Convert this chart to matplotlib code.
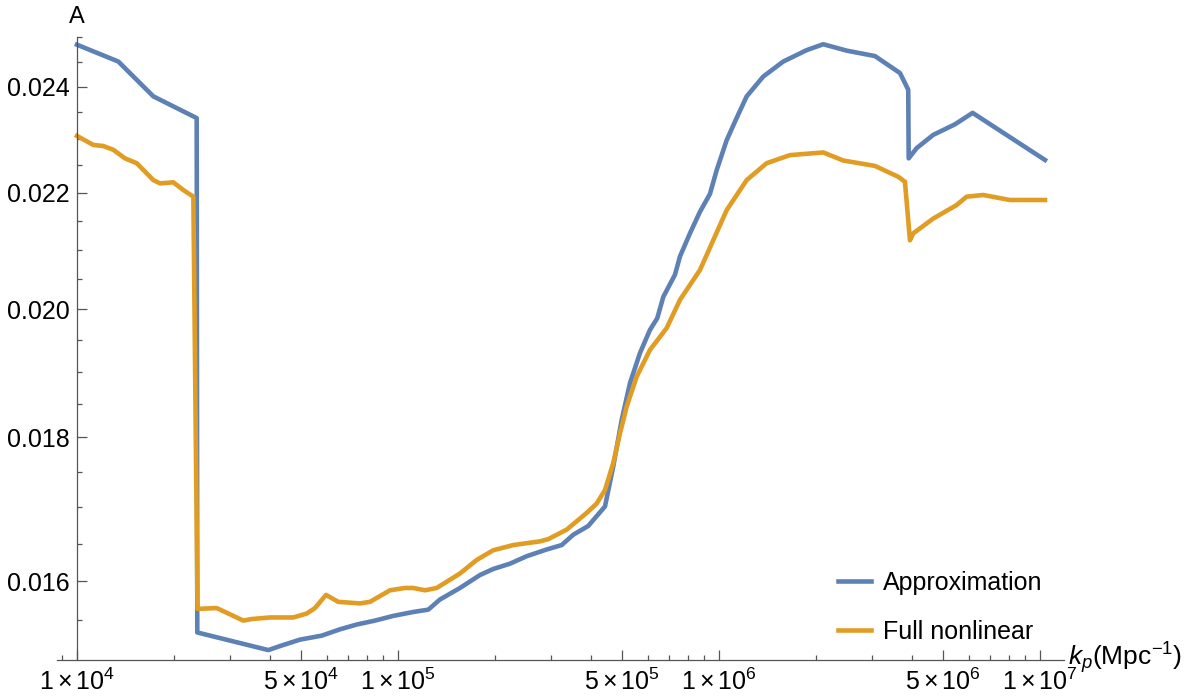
import matplotlib
matplotlib.use("Agg")
import matplotlib.pyplot as plt
from matplotlib.ticker import FixedLocator, FixedFormatter, NullFormatter

plt.rcParams['font.family'] = ['Liberation Sans', 'DejaVu Sans']
plt.rcParams['mathtext.fontset'] = 'custom'
plt.rcParams['mathtext.rm'] = 'Liberation Sans'
plt.rcParams['mathtext.it'] = 'Liberation Sans:italic'

# values
k_approx = [1.0e4, 1.345e4, 1.729e4, 2.36e4, 2.37e4, 3.945e4, 4.29e4, 4.95e4, 5.785e4, 6.60e4,
            7.435e4, 8.48e4, 9.67e4, 1.116e5, 1.243e5, 1.351e5, 1.56e5, 1.801e5, 1.981e5, 2.233e5,
            2.518e5, 2.905e5, 3.236e5, 3.516e5, 3.915e5, 4.415e5, 4.686e5, 4.977e5, 5.281e5, 5.674e5,
            6.096e5, 6.425e5, 6.708e5, 7.293e5, 7.56e5, 8.121e5, 8.727e5, 9.376e5, 9.836e5, 1.057e6,
            1.135e6, 1.22e6, 1.374e6, 1.586e6, 1.876e6, 2.113e6, 2.50e6, 3.062e6, 3.664e6, 3.888e6,
            3.90e6, 4.129e6, 4.652e6, 5.434e6, 6.17e6, 1.037e7]
A_approx = [0.02484, 0.02450, 0.02381, 0.02339, 0.01534, 0.01512, 0.01517, 0.01525, 0.01530, 0.01538,
            0.01544, 0.01549, 0.01555, 0.01560, 0.01563, 0.01576, 0.01591, 0.01608, 0.01616, 0.01623,
            0.01633, 0.01642, 0.01648, 0.01662, 0.01674, 0.01701, 0.01758, 0.01826, 0.01882, 0.01929,
            0.01966, 0.01985, 0.02020, 0.02057, 0.02088, 0.02128, 0.02166, 0.02198, 0.02241, 0.02297,
            0.02339, 0.02381, 0.02420, 0.02450, 0.02473, 0.02485, 0.02472, 0.02461, 0.02427, 0.02394,
            0.02263, 0.02282, 0.02307, 0.02327, 0.02349, 0.02260]

k_full = [1.0e4, 1.124e4, 1.208e4, 1.297e4, 1.411e4, 1.535e4, 1.729e4, 1.814e4, 1.995e4, 2.144e4,
          2.304e4, 2.374e4, 2.724e4, 2.927e4, 3.297e4, 3.501e4, 3.993e4, 4.719e4, 5.194e4, 5.513e4,
          5.967e4, 6.516e4, 7.613e4, 8.178e4, 9.443e4, 1.051e5, 1.116e5, 1.214e5, 1.32e5, 1.56e5,
          1.759e5, 1.981e5, 2.287e5, 2.769e5, 2.938e5, 3.354e5, 3.871e5, 4.159e5, 4.415e5, 4.686e5,
          4.916e5, 5.158e5, 5.541e5, 6.096e5, 6.873e5, 7.56e5, 8.727e5, 9.599e5, 1.057e6, 1.22e6,
          1.408e6, 1.664e6, 2.113e6, 2.439e6, 3.062e6, 3.62e6, 3.797e6, 3.936e6, 4.03e6, 4.652e6,
          5.502e6, 5.911e6, 6.658e6, 8.063e6, 1.037e7]
A_full = [0.02305, 0.02288, 0.02286, 0.02279, 0.02263, 0.02254, 0.02223, 0.02217, 0.02219, 0.02205,
          0.02193, 0.01564, 0.01565, 0.01559, 0.01549, 0.01551, 0.01553, 0.01553, 0.01558, 0.01565,
          0.01582, 0.01573, 0.01571, 0.01573, 0.01588, 0.01591, 0.01591, 0.01588, 0.01591, 0.01610,
          0.01628, 0.01641, 0.01648, 0.01653, 0.01656, 0.01669, 0.01692, 0.01705, 0.01724, 0.01763,
          0.01806, 0.01846, 0.01892, 0.01934, 0.01969, 0.02015, 0.02065, 0.02116, 0.02169, 0.02223,
          0.02254, 0.02269, 0.02274, 0.02259, 0.02249, 0.02229, 0.02220, 0.02116, 0.02128, 0.02154,
          0.02178, 0.02193, 0.02196, 0.02187, 0.02187]

x_major = [1e4, 5e4, 1e5, 5e5, 1e6, 5e6, 1e7]
x_major_labels = [r'$\mathregular{1\times10^{4}}$', r'$\mathregular{5\times10^{4}}$',
                  r'$\mathregular{1\times10^{5}}$', r'$\mathregular{5\times10^{5}}$',
                  r'$\mathregular{1\times10^{6}}$', r'$\mathregular{5\times10^{6}}$',
                  r'$\mathregular{1\times10^{7}}$']
x_minor = [9e3] + [m * 10**e for e in (4, 5, 6) for m in (2, 3, 4, 6, 7, 8, 9)]
y_major = [0.016, 0.018, 0.020, 0.022, 0.024]
y_minor = [0.0155 + 0.0005 * i for i in range(20) if round((0.0155 + 0.0005 * i) * 1e4) % 20 != 0]

blue = '#5E81B5'
orange = '#E19C24'
axis_col = '#555555'

fig = plt.figure(figsize=(11.95, 6.96), dpi=100)
ax = fig.add_axes([57.1 / 1195, (696 - 659.8) / 696, (1064 - 57.1) / 1195, (659.8 - 36.9) / 696])
ax.set_xscale('log')
ax.set_yscale('log')

ax.plot(k_approx, A_approx, color=blue, lw=3.3, label='Approximation')
ax.plot(k_full, A_full, color=orange, lw=3.3, label='Full nonlinear', solid_joinstyle='round')

ax.set_xlim(10**3.938, 10**7.075)
ax.set_ylim(0.015, 0.025)

for s in ('top', 'right'):
    ax.spines[s].set_visible(False)
ax.spines['left'].set_position(('data', 1e4))
for s in ('left', 'bottom'):
    ax.spines[s].set_color(axis_col)
    ax.spines[s].set_linewidth(0.9)

ax.xaxis.set_major_locator(FixedLocator(x_major))
ax.xaxis.set_major_formatter(FixedFormatter(x_major_labels))
ax.xaxis.set_minor_locator(FixedLocator(x_minor))
ax.xaxis.set_minor_formatter(NullFormatter())
ax.yaxis.set_major_locator(FixedLocator(y_major))
ax.yaxis.set_major_formatter(FixedFormatter(['%.3f' % v for v in y_major]))
ax.yaxis.set_minor_locator(FixedLocator(y_minor))
ax.yaxis.set_minor_formatter(NullFormatter())

ax.tick_params(which='both', direction='in', color=axis_col, width=0.9, labelsize=18)
ax.tick_params(which='major', length=7.5)
ax.tick_params(which='minor', length=3.8)
ax.tick_params(axis='y', pad=5)
ax.tick_params(axis='x', pad=6)

ax.annotate('A', xy=(1e4, 0.025), xycoords='data', xytext=(0, 10), textcoords='offset points',
            ha='center', va='baseline', fontsize=17)
ax.annotate(r'$k_p$(Mpc$^{-1}$)', xy=(1, 0), xycoords='axes fraction', xytext=(3, 1),
            textcoords='offset points', ha='left', va='center', fontsize=19)

ax.legend(loc='upper left', bbox_to_anchor=(838 / 1195, 1 - 571 / 696), bbox_transform=fig.transFigure,
          frameon=False, fontsize=18, handlelength=1.3, handletextpad=0.5, labelspacing=1.0,
          borderpad=0, borderaxespad=0)

fig.savefig('out.png', dpi=100)
